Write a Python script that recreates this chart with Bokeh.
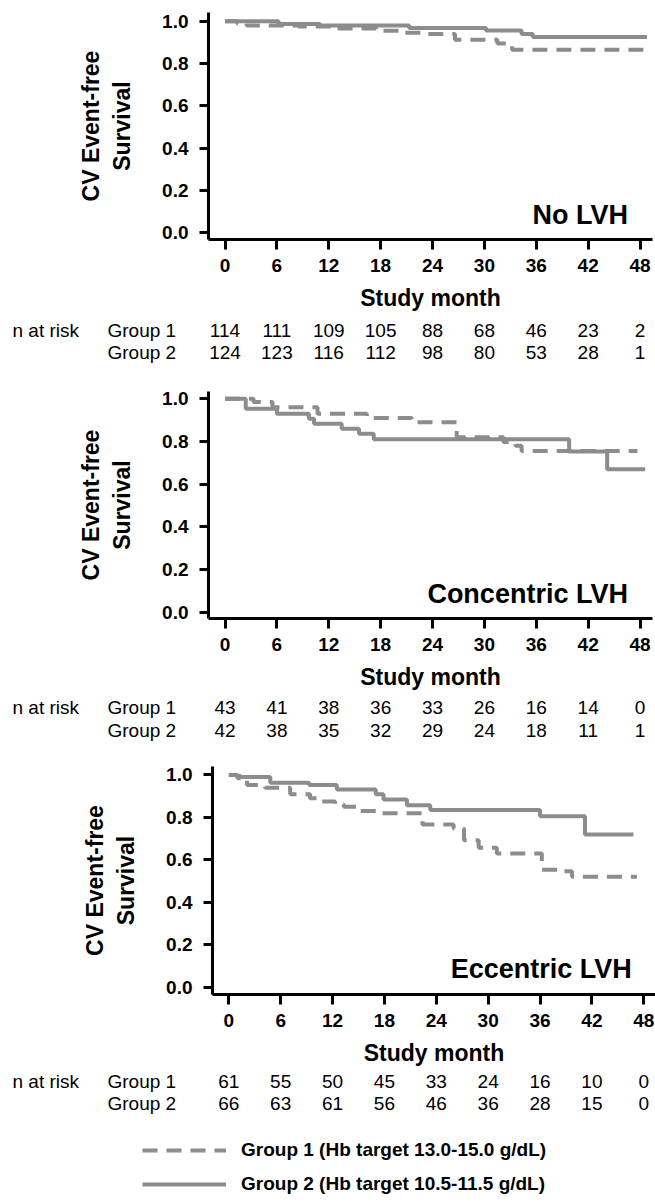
from bokeh.plotting import figure
from bokeh.models import Range1d, FixedTicker, PrintfTickFormatter, Legend, LegendItem
from bokeh.core.properties import value
from bokeh.embed import file_html
from bokeh.resources import INLINE

# ---------------- data ----------------
month_ticks = [0, 6, 12, 18, 24, 30, 36, 42, 48]
surv_ticks = [0.0, 0.2, 0.4, 0.6, 0.8, 1.0]

# No LVH
nolvh_g1_t = [0, 1.4, 2.5, 8.5, 12.0, 17.5, 20.5, 23.5, 26.6, 31.5, 33.2, 48.8]
nolvh_g1_s = [1.0, 0.99, 0.98, 0.975, 0.965, 0.955, 0.945, 0.94, 0.912, 0.895, 0.865, 0.865]
nolvh_g2_t = [0, 6.2, 11.0, 21.3, 30.2, 34.3, 35.6, 48.8]
nolvh_g2_s = [1.0, 0.987, 0.98, 0.968, 0.956, 0.94, 0.925, 0.925]

# Concentric LVH
conc_g1_t = [0, 3.3, 5.5, 10.7, 16.4, 21.6, 26.8, 32.2, 33.6, 34.3, 47.7]
conc_g1_s = [1.0, 0.985, 0.96, 0.93, 0.91, 0.89, 0.82, 0.797, 0.78, 0.755, 0.755]
conc_g2_t = [0, 2.4, 6.0, 9.7, 10.3, 13.5, 15.5, 17.2, 39.8, 44.2, 48.6]
conc_g2_s = [1.0, 0.953, 0.93, 0.906, 0.883, 0.86, 0.836, 0.81, 0.753, 0.67, 0.67]

# Eccentric LVH
ecc_g1_t = [0, 1.0, 2.1, 4.2, 7.1, 9.4, 10.4, 12.3, 13.3, 15.0, 17.2, 22.4, 26.0, 27.2, 28.9, 31.0, 36.2, 38.6, 39.7, 47.2]
ecc_g1_s = [1.0, 0.985, 0.953, 0.94, 0.909, 0.89, 0.875, 0.861, 0.85, 0.83, 0.82, 0.767, 0.748, 0.693, 0.657, 0.63, 0.554, 0.546, 0.52, 0.52]
ecc_g2_t = [0, 1.0, 1.35, 4.8, 9.3, 12.5, 17.0, 17.9, 20.6, 23.3, 36.0, 41.2, 46.8]
ecc_g2_s = [1.0, 0.995, 0.99, 0.964, 0.953, 0.932, 0.909, 0.885, 0.857, 0.835, 0.806, 0.72, 0.72]

# numbers at risk
nolvh_risk_g1 = [114, 111, 109, 105, 88, 68, 46, 23, 2]
nolvh_risk_g2 = [124, 123, 116, 112, 98, 80, 53, 28, 1]
conc_risk_g1 = [43, 41, 38, 36, 33, 26, 16, 14, 0]
conc_risk_g2 = [42, 38, 35, 32, 29, 24, 18, 11, 1]
ecc_risk_g1 = [61, 55, 50, 45, 33, 24, 16, 10, 0]
ecc_risk_g2 = [66, 63, 61, 56, 46, 36, 28, 15, 0]

panel_titles = ["No LVH", "Concentric LVH", "Eccentric LVH"]
table_labels = ["n at risk", "Group 1", "Group 2"]
legend_labels = ["Group 1 (Hb target 13.0-15.0 g/dL)", "Group 2 (Hb target 10.5-11.5 g/dL)"]

# ---------------- style ----------------
FONT = "Liberation Sans"
GREY = "#8C8C8C"
LW = 4
DASH = "15 9"
PXM = 8.646          # pixels per month
W = 655


def panel(g1_t, g1_s, g2_t, g2_s, name, height, top, bottom, left, right, zero_px, yr):
    xs = (left - zero_px) / PXM
    xr = Range1d(xs, xs + (W - left - right) / PXM)
    p = figure(width=W, height=height, x_range=xr, y_range=Range1d(*yr),
               output_backend="svg", toolbar_location=None,
               min_border_left=left, min_border_right=right,
               min_border_top=top, min_border_bottom=bottom)
    p.grid.visible = False
    p.outline_line_color = None
    p.step(g2_t, g2_s, mode="after", line_color=GREY, line_width=LW)
    p.step(g1_t, g1_s, mode="after", line_color=GREY, line_width=LW, line_dash=DASH)
    p.text(x=[46.6], y=[0.085], text=[name], text_font=value(FONT), text_font_style="bold",
           text_font_size="27px", text_align="right", text_baseline="alphabetic", text_color="black")

    for ax in (p.xaxis[0], p.yaxis[0]):
        ax.axis_line_width = 3
        ax.axis_line_color = "black"
        ax.major_tick_line_width = 3
        ax.major_tick_line_color = "black"
        ax.major_tick_in = 0
        ax.minor_tick_in = 0
        ax.minor_tick_out = 0
        ax.major_label_text_font = FONT
        ax.major_label_text_font_style = "bold"
        ax.major_label_text_font_size = "19px"
        ax.major_label_text_color = "black"
        ax.axis_label_text_font = FONT
        ax.axis_label_text_font_style = "bold"
        ax.axis_label_text_font_size = "23px"
        ax.axis_label_text_color = "black"

    xa = p.xaxis[0]
    xa.ticker = FixedTicker(ticks=month_ticks)
    xa.major_tick_out = 10
    xa.major_label_standoff = 9
    xa.axis_label = "Study month"
    xa.axis_label_standoff = 10

    ya = p.yaxis[0]
    ya.ticker = FixedTicker(ticks=surv_ticks)
    ya.formatter = PrintfTickFormatter(format="%.1f")
    ya.major_tick_out = 9
    ya.major_label_standoff = 11
    ya.axis_label = "CV Event-free\nSurvival"
    ya.axis_label_standoff = 24
    return p


def table(g1, g2, height, rows, zero_px, legend=False):
    xs = -zero_px / PXM
    t = figure(width=W, height=height, x_range=Range1d(xs, xs + W / PXM),
               y_range=Range1d(height, 0),
               output_backend="svg", toolbar_location=None,
               min_border_left=0, min_border_right=0, min_border_top=0, min_border_bottom=0,
               x_axis_type=None, y_axis_type=None)
    t.grid.visible = False
    t.outline_line_color = None
    for vals, ry in ((g1, rows[0]), (g2, rows[1])):
        t.text(x=month_ticks, y=[ry] * len(month_ticks), text=[str(v) for v in vals],
               text_font=value(FONT), text_font_size="19px", text_align="center",
               text_baseline="middle", text_color="black")
    nx = xs + 12 / PXM
    gx = xs + 107 / PXM
    t.text(x=[nx, gx, gx], y=[rows[0], rows[0], rows[1]], text=table_labels,
           text_font=value(FONT), text_font_size="19px", text_align="left",
           text_baseline="middle", text_color="black")
    if legend:
        nan = float("nan")
        r1 = t.line(x=[nan], y=[nan], line_color=GREY, line_width=LW, line_dash=DASH)
        r2 = t.line(x=[nan], y=[nan], line_color=GREY, line_width=LW)
        leg = Legend(items=[LegendItem(label=legend_labels[0], renderers=[r1]),
                            LegendItem(label=legend_labels[1], renderers=[r2])],
                     location=(142, 8), padding=0, margin=0, spacing=12,
                     glyph_width=84, glyph_height=20, label_standoff=15,
                     label_text_font=FONT, label_text_font_style="bold",
                     label_text_font_size="19px", label_text_color="black",
                     border_line_color=None, background_fill_alpha=0)
        t.add_layout(leg)
    return t


p1 = panel(nolvh_g1_t, nolvh_g1_s, nolvh_g2_t, nolvh_g2_s, panel_titles[0],
           317, 12, 78, 208, 3, 224.5, (-0.0317, 1.0411))
t1 = table(nolvh_risk_g1, nolvh_risk_g2, 61, (13, 35), 224.5)
p2 = panel(conc_g1_t, conc_g1_s, conc_g2_t, conc_g2_s, panel_titles[1],
           318, 13, 78, 208, 3, 224.5, (-0.0295, 1.0342))
t2 = table(conc_risk_g1, conc_risk_g2, 60, (11, 34), 224.5)
p3 = panel(ecc_g1_t, ecc_g1_s, ecc_g2_t, ecc_g2_s, panel_titles[2],
           314, 10, 76, 212, 0, 228.3, (-0.0344, 1.040))
t3 = table(ecc_risk_g1, ecc_risk_g2, 133, (11, 33), 228.3, legend=True)

# separate roots, stacked vertically (no frame alignment between them)
open("out.html", "w").write(file_html([p1, t1, p2, t2, p3, t3], INLINE))
